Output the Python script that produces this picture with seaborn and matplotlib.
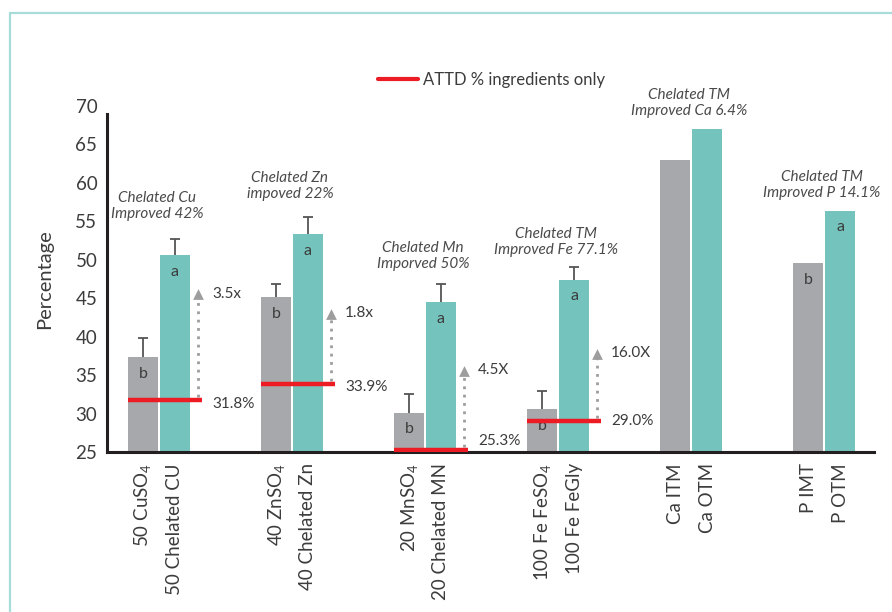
import numpy as np
import pandas as pd
import matplotlib
matplotlib.use("Agg")
import matplotlib.pyplot as plt
from matplotlib.lines import Line2D
from matplotlib.patches import Rectangle
import seaborn as sns

# ---- data -------------------------------------------------------------
groups = ["Cu", "Zn", "Mn", "Fe", "Ca", "P"]
tick_labels = ["50 CuSO$_4$", "50 Chelated CU", "40 ZnSO$_4$", "40 Chelated Zn",
               "20 MnSO$_4$", "20 Chelated MN", "100 Fe FeSO$_4$", "100 Fe FeGly",
               "Ca ITM", "Ca OTM", "P IMT", "P OTM"]
inorganic = [37.3, 45.1, 30.1, 30.6, 63.0, 49.6]
chelated = [50.6, 53.3, 44.5, 47.4, 67.0, 56.4]
inorganic_err = [2.5, 1.7, 2.4, 2.4, np.nan, np.nan]
chelated_err = [2.1, 2.2, 2.3, 1.6, np.nan, np.nan]
inorganic_letters = ["b", "b", "b", "b", "", "b"]
chelated_letters = ["a", "a", "a", "a", "", "a"]
attd_values = [31.8, 33.9, 25.3, 29.0]          # ATTD % of ingredients only
attd_labels = ["31.8%", "33.9%", "25.3%", "29.0%"]
fold_labels = ["3.5x", "1.8x", "4.5X", "16.0X"]
notes = ["Chelated Cu\nImproved 42%", "Chelated Zn\nimpoved 22%",
         "Chelated Mn\nImporved 50%", "Chelated TM\nImproved Fe 77.1%",
         "Chelated TM\nImproved Ca 6.4%", "Chelated TM\nImproved P 14.1%"]

# ---- layout helpers ---------------------------------------------------
note_y = [57.0, 59.6, 50.5, 52.3, 70.4, 59.7]
arrow_top = [46.1, 43.6, 36.2, 38.4]
attd_label_y = [31.25, 33.4, 26.4, 29.0]

GRAY = "#a7a8ab"
TEAL = "#74c3bd"
RED = "#ed1c24"
TXT = "#3c3c3c"

sns.set_theme(style="white")
plt.rcParams["font.family"] = ["Lato", "DejaVu Sans"]
plt.rcParams["mathtext.fontset"] = "custom"
plt.rcParams["mathtext.rm"] = "Lato"
plt.rcParams["mathtext.it"] = "Lato:italic"

df = pd.DataFrame({
    "group": groups * 2,
    "form": ["inorganic"] * len(groups) + ["chelated"] * len(groups),
    "value": inorganic + chelated,
})

fig = plt.figure(figsize=(8.92, 6.12), dpi=100)
ax = fig.add_axes([0.12, 0.2614, 0.86, 0.5654])

sns.barplot(data=df, x="group", y="value", hue="form", order=groups,
            hue_order=["inorganic", "chelated"], palette=[GRAY, TEAL],
            width=0.48, gap=0.0625, saturation=1, errorbar=None,
            legend=False, linewidth=0, zorder=1, ax=ax)

ax.set_xlim(-0.39, 5.376)
ax.set_ylim(25, 70)
ax.set_yticks(np.arange(25, 71, 5))
ax.tick_params(axis="y", length=0, pad=7, labelsize=13.5, labelcolor=TXT)
ax.set_ylabel("Percentage", fontsize=14.5, color=TXT, labelpad=16)
ax.set_xlabel("")

for s in ("top", "right"):
    ax.spines[s].set_visible(False)
for s in ("left", "bottom"):
    ax.spines[s].set_color("#231f20")
    ax.spines[s].set_linewidth(2.2)
ax.spines["left"].set_bounds(25, 69)

# bar geometry from the drawn patches
bars = sorted(ax.patches, key=lambda p: p.get_x())
centers = [p.get_x() + p.get_width() / 2 for p in bars]
lefts = [p.get_x() for p in bars]
rights = [p.get_x() + p.get_width() for p in bars]
heights = [p.get_height() for p in bars]

ax.set_xticks(centers)
ax.set_xticklabels(tick_labels, rotation=90, fontsize=13.5, color=TXT, va="top")
ax.tick_params(axis="x", length=0, pad=8)

# upper error bars (drawn behind the bars so only the upper part shows)
errs = []
for a, b in zip(inorganic_err, chelated_err):
    errs += [a, b]
for x, h, e in zip(centers, heights, errs):
    if not np.isnan(e):
        ax.errorbar(x, h, yerr=[[0.5], [e]], fmt="none", ecolor="#555555",
                    elinewidth=1.3, capsize=3.8, capthick=1.3, zorder=0.5)

# significance letters
letters = []
for a, b in zip(inorganic_letters, chelated_letters):
    letters += [a, b]
for x, h, t in zip(centers, heights, letters):
    if t:
        ax.annotate(t, (x, h), xytext=(0, -12), textcoords="offset points",
                    ha="center", va="center", fontsize=11.5, color=TXT)

# ATTD lines, dotted arrows and fold labels
px = 1 / 133.0  # data units per pixel along x
for i, v in enumerate(attd_values):
    left = lefts[2 * i]
    ax_x = rights[2 * i + 1] + 8 * px
    ax.plot([ax_x, ax_x], [v + 0.4, arrow_top[i] - 1.0], ls=(0, (1, 2)),
            color="#9d9d9d", lw=2, zorder=3)
    ax.scatter([ax_x], [arrow_top[i] - 0.6], marker="^", s=60, color="#9d9d9d",
               linewidths=0, zorder=3)
    ax.plot([left, ax_x + 4 * px], [v, v], color=RED, lw=3.2,
            solid_capstyle="butt", zorder=4)
    ax.text(ax_x + 14 * px, attd_label_y[i], attd_labels[i], fontsize=11,
            color=TXT, va="center", ha="left")
    ax.text(ax_x + 14 * px, arrow_top[i] - 0.5, fold_labels[i], fontsize=11,
            color=TXT, va="center", ha="left")

# improvement notes
for i, t in enumerate(notes):
    ax.text(i - 0.015, note_y[i], t, ha="center", va="center", fontsize=11,
            style="italic", color="#4a4a4a", linespacing=1.15, clip_on=False)

# legend
handle = Line2D([0], [0], color=RED, lw=3)
fig.legend([handle], ["ATTD % ingredients only"], loc="center",
           bbox_to_anchor=(0.551, 0.869), frameon=False, fontsize=12,
           handlelength=2.4, handletextpad=0.3, labelcolor=TXT)

# framing outline, running off the right and bottom edges
top = 1 - 13 / 612
fig.add_artist(Rectangle((10 / 892, -0.2), 1.5, top + 0.2,
                         transform=fig.transFigure, fill=False,
                         edgecolor="#a8dcd8", lw=1.6))

fig.savefig("out.png", dpi=100)
